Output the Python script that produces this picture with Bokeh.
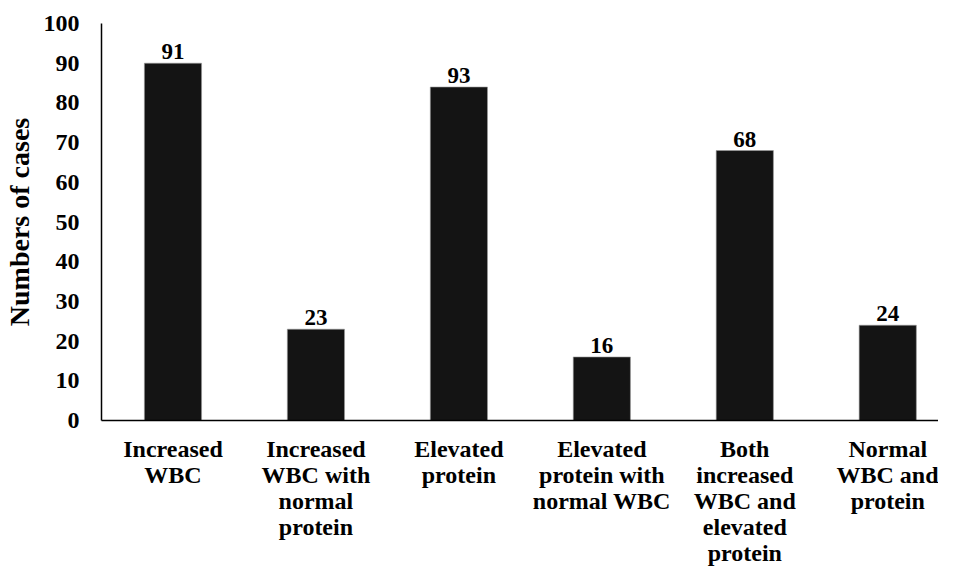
from bokeh.plotting import figure
from bokeh.models import Range1d, FixedTicker, ColumnDataSource, LinearAxis, CustomJSTickFormatter
from bokeh.embed import file_html
from bokeh.resources import INLINE
from bokeh.core.properties import value

categories = [
    ["Increased", "WBC"],
    ["Increased", "WBC with", "normal", "protein"],
    ["Elevated", "protein"],
    ["Elevated", "protein with", "normal WBC"],
    ["Both", "increased", "WBC and", "elevated", "protein"],
    ["Normal", "WBC and", "protein"],
]
bar_heights = [90, 23, 84, 16, 68, 24]
bar_labels = ["91", "23", "93", "16", "68", "24"]
y_ticks = [0, 10, 20, 30, 40, 50, 60, 70, 80, 90, 100]

FONT = "Liberation Serif"

xs = list(range(len(categories)))
src = ColumnDataSource(dict(x=xs, top=bar_heights, label=bar_labels))

p = figure(width=938, height=568, output_backend="svg", toolbar_location=None,
           x_range=Range1d(-0.5, 5.355), y_range=Range1d(0, 100),
           min_border_left=96, min_border_right=0, min_border_top=23, min_border_bottom=0)

p.vbar(x="x", top="top", width=0.4, source=src, fill_color="#141414", line_color="#9a9a9a", line_width=0.6)
p.text(x="x", y="top", text="label", source=src, text_align="center", text_baseline="bottom",
       y_offset=-4, text_font=value(FONT), text_font_size="23px", text_font_style="bold", text_color="black")

p.outline_line_color = None
p.xgrid.grid_line_color = None
p.ygrid.grid_line_color = None

p.yaxis.ticker = FixedTicker(ticks=y_ticks)
p.yaxis.major_tick_line_color = None
p.yaxis.minor_tick_line_color = None
p.yaxis.axis_line_color = "black"
p.yaxis.axis_line_width = 1.5
p.yaxis.major_label_text_font = FONT
p.yaxis.major_label_text_font_size = "24px"
p.yaxis.major_label_text_font_style = "bold"
p.yaxis.major_label_text_color = "black"
p.yaxis.major_label_standoff = 16
p.yaxis.axis_label = "Numbers of cases"
p.yaxis.axis_label_text_font = FONT
p.yaxis.axis_label_text_font_size = "28px"
p.yaxis.axis_label_text_font_style = "bold"
p.yaxis.axis_label_text_color = "black"
p.yaxis.axis_label_standoff = 6


def style_x(ax, line_idx, standoff):
    ax.ticker = FixedTicker(ticks=xs)
    line_texts = [(c[line_idx] if line_idx < len(c) else "") for c in categories]
    ax.formatter = CustomJSTickFormatter(args=dict(t=line_texts),
                                         code="const i = Math.round(tick); return (i >= 0 && i < t.length) ? t[i] : '';")
    ax.major_tick_line_color = None
    ax.minor_tick_line_color = None
    ax.major_tick_out = 0
    ax.major_label_text_font = FONT
    ax.major_label_text_font_size = "24px"
    ax.major_label_text_font_style = "bold"
    ax.major_label_text_color = "black"
    ax.major_label_standoff = standoff


main_x = p.xaxis[0]
style_x(main_x, 0, 15)
main_x.axis_line_color = "black"
main_x.axis_line_width = 1.5

n_lines = max(len(c) for c in categories)
for j in range(1, n_lines):
    ax = LinearAxis()
    style_x(ax, j, -3)
    ax.axis_line_color = None
    p.add_layout(ax, "below")

open("out.html", "w").write(file_html(p, INLINE))
